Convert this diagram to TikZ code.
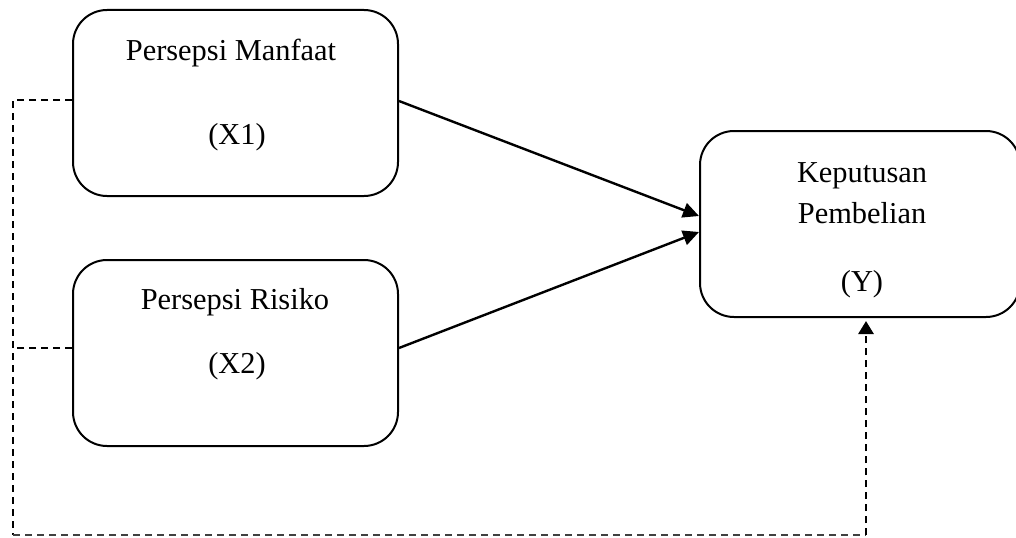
\documentclass[tikz,border=0pt]{standalone}
\usepackage{fontspec}
\setmainfont{Liberation Serif}
\usepackage{tikz}
\usetikzlibrary{arrows.meta,positioning,calc}

\tikzset{
  varbox/.style={draw,line width=1pt,rounded corners=17pt,fill=white,minimum width=162.5pt,minimum height=93pt},
  vartext/.style={anchor=base,inner sep=0pt,font=\fontsize{15.2}{18}\selectfont},
  effect/.style={-{Triangle[length=8pt,width=7.5pt]},line width=1.2pt},
  moderate/.style={dash pattern=on 3.5pt off 2.5pt,line width=1pt}
}

\begin{document}
\begin{tikzpicture}[x=0.5pt,y=0.5pt]
  \useasboundingbox (0,0) rectangle (1016,537);
  % the three variables
  \node[varbox] (x1) at (235.5,434) {};
  \node[varbox,below=31pt of x1] (x2) {};
  \node[varbox,minimum width=160pt] (y) at (860,313) {};
  \node[vartext] (x1name) at (231,477) {Persepsi Manfaat};
  \node[vartext] (x1code) at (237,393) {(X1)};
  \node[vartext] (x2name) at (235,228) {Persepsi Risiko};
  \node[vartext] (x2code) at (237,164) {(X2)};
  \node[vartext] (yname) at (862,355) {Keputusan};
  \node[vartext] (yname2) at (862,314) {Pembelian};
  \node[vartext] (ycode) at (862,246) {(Y)};
  % direct effects
  \draw[effect] ([yshift=1pt]x1.east) -- ([yshift=4pt]y.west);
  \draw[effect] ([yshift=2.5pt]x2.east) -- ([yshift=-4pt]y.west);
  % simultaneous effect (dashed)
  \coordinate (corner) at (13,2);
  \coordinate (yin) at ([xshift=3pt,yshift=-1.5pt]y.south);
  \draw[moderate] ([yshift=1.5pt]x1.west) -| (corner);
  \draw[moderate] ([yshift=2.5pt]x2.west) -- ([yshift=2.5pt]x2.west -| corner);
  \draw[moderate,line width=0.6pt,black!75] (corner) -- (corner -| yin);
  \draw[moderate,line width=1.4pt,-{Triangle[length=6.5pt,width=7.5pt]}] (corner -| yin) -- (yin);
\end{tikzpicture}
\end{document}
